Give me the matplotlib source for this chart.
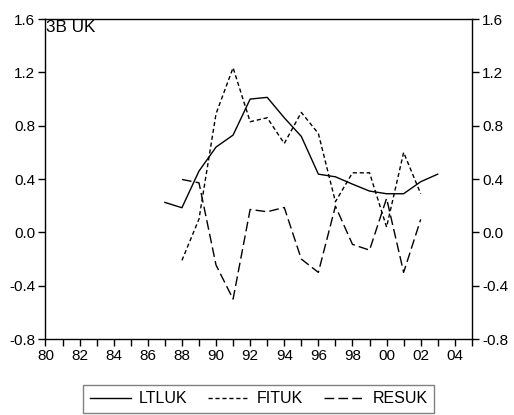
import matplotlib
matplotlib.use("Agg")
import matplotlib.pyplot as plt

plt.rcParams['font.family'] = ['Liberation Sans', 'DejaVu Sans']

years_lt = list(range(1987, 2004))
ltluk = [0.225, 0.185, 0.46, 0.64, 0.73, 1.00, 1.013, 0.86, 0.72, 0.437,
         0.417, 0.362, 0.31, 0.29, 0.29, 0.38, 0.437]

years_fit = list(range(1988, 2003))
fituk = [-0.21, 0.10, 0.89, 1.235, 0.83, 0.86, 0.667, 0.90, 0.742, 0.23,
         0.447, 0.447, 0.04, 0.60, 0.29]
resuk = [0.397, 0.372, -0.245, -0.50, 0.172, 0.155, 0.187, -0.20, -0.30, 0.197,
         -0.09, -0.133, 0.255, -0.30, 0.097]

yticks = [-0.8, -0.4, 0.0, 0.4, 0.8, 1.2, 1.6]

fig = plt.figure(figsize=(5.14, 4.15), dpi=100)
ax = fig.add_axes([0.0885, 0.183, 0.8295, 0.771])

ax.plot(years_lt, ltluk, color='black', lw=1.0, label='LTLUK')
ax.plot(years_fit, fituk, color='black', lw=1.0, dashes=(3, 2), label='FITUK')
ax.plot(years_fit, resuk, color='black', lw=1.0, dashes=(7, 3), label='RESUK')

ax.set_xlim(1980, 2005)
ax.set_ylim(-0.8, 1.6)
ax.set_xticks(range(1980, 2006))
ax.set_xticklabels(['%02d' % (y % 100) if y % 2 == 0 and y < 2005 else '' for y in range(1980, 2006)])
ax.set_yticks(yticks)
ax.set_yticklabels(['%.1f' % v for v in yticks])
ax.tick_params(direction='out', length=5, width=1, labelsize=11, pad=2.5,
               right=True, labelright=True, colors='black')
for s in ax.spines.values():
    s.set_linewidth(1)

ax.text(0.002, 0.998, '3B UK', transform=ax.transAxes, va='top', ha='left', fontsize=12.3)

fig.legend(loc='center', bbox_to_anchor=(0.503, 0.039), ncol=3, fontsize=11.5,
           fancybox=False, edgecolor='#808080', handlelength=2.6, handletextpad=0.45,
           columnspacing=1.3, borderpad=0.4, framealpha=1)

fig.savefig('out.png', dpi=100)
